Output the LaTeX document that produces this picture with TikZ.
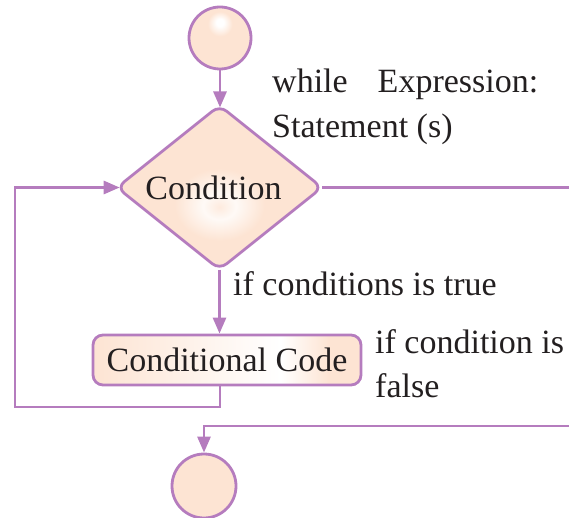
\documentclass[tikz,border=0pt]{standalone}
\usepackage{fontspec}
\setmainfont{Liberation Serif}
\usetikzlibrary{shapes.geometric,arrows.meta,backgrounds}
\definecolor{peach}{RGB}{253,228,211}
\definecolor{lilac}{RGB}{181,124,190}
\definecolor{ink}{RGB}{35,31,32}
\pgfdeclareradialshading{topglow}{\pgfpoint{0bp}{13bp}}{color(0bp)=(white); color(3bp)=(white); color(10bp)=(peach); color(80bp)=(peach)}
\pgfdeclareradialshading{diaglow}{\pgfpoint{0bp}{-6bp}}{color(0bp)=(peach!75!white); color(4bp)=(white!80!peach); color(11bp)=(peach); color(80bp)=(peach)}
\pgfdeclarehorizontalshading{boxglow}{100bp}{color(0bp)=(peach); color(25bp)=(peach); color(60bp)=(white); color(69bp)=(peach); color(100bp)=(peach)}
\tikzset{
  flow/.style={draw=lilac, line width=2.8pt},
  arr/.style={flow, -{Triangle[width=13pt,length=16pt]}},
  shapebox/.style={draw=lilac, line width=2.8pt, inner sep=0pt, text=ink, font=\fontsize{34}{40}\selectfont},
  lbl/.style={font=\fontsize{34}{40}\selectfont, text=ink, inner sep=0pt, anchor=base west},
}
\begin{document}
\begin{tikzpicture}[x=1pt, y=-1pt]
\useasboundingbox (0,0) rectangle (569,518);
\node[shapebox, circle, minimum size=62pt, shading=topglow] (start) at (220,38) {};
\node[shapebox, diamond, outer sep=0pt, minimum width=205pt, minimum height=164pt, rounded corners=9pt, shading=diaglow] (cond) at (219.5,187.5) {\hspace*{-12pt}Condition};
\node[shapebox, rectangle, rounded corners=10pt, minimum width=268pt, minimum height=50pt, shading=boxglow] (code) at (227,360) {Conditional Code};
\node[shapebox, circle, minimum size=64pt, fill=peach] (stop) at (204,486) {};
\coordinate (rightA) at (569,187.5);
\coordinate (rightB) at (569,426);
\coordinate (loopA) at (220,407);
\coordinate (loopB) at (15,407);
\coordinate (loopC) at (15,187.5);
\begin{pgfonlayer}{background}
\draw[arr, shorten >=-2pt] (start.south) -- (start.south |- cond.north);
\draw[flow] (cond.east) -- (rightA);
\draw[arr] (cond.south) -- (cond.south |- code.north);
\draw[arr, shorten >=-2.7pt] (loopA |- code.south) -- (loopA) -- (loopB) -- (loopC) -- (cond.west);
\draw[arr] (rightB) -- (stop.north |- rightB) -- (stop.north);
\end{pgfonlayer}
\node[lbl] (whileT) at (272,93) {while\hspace{30pt}Expression:};
\node[lbl] (stmtT) at (272,138) {Statement (s)};
\node[lbl] (trueT) at (233,295) {if conditions is true};
\node[lbl] (falseA) at (375,353) {if condition is};
\node[lbl] (falseB) at (375,397) {false};
\end{tikzpicture}
\end{document}
